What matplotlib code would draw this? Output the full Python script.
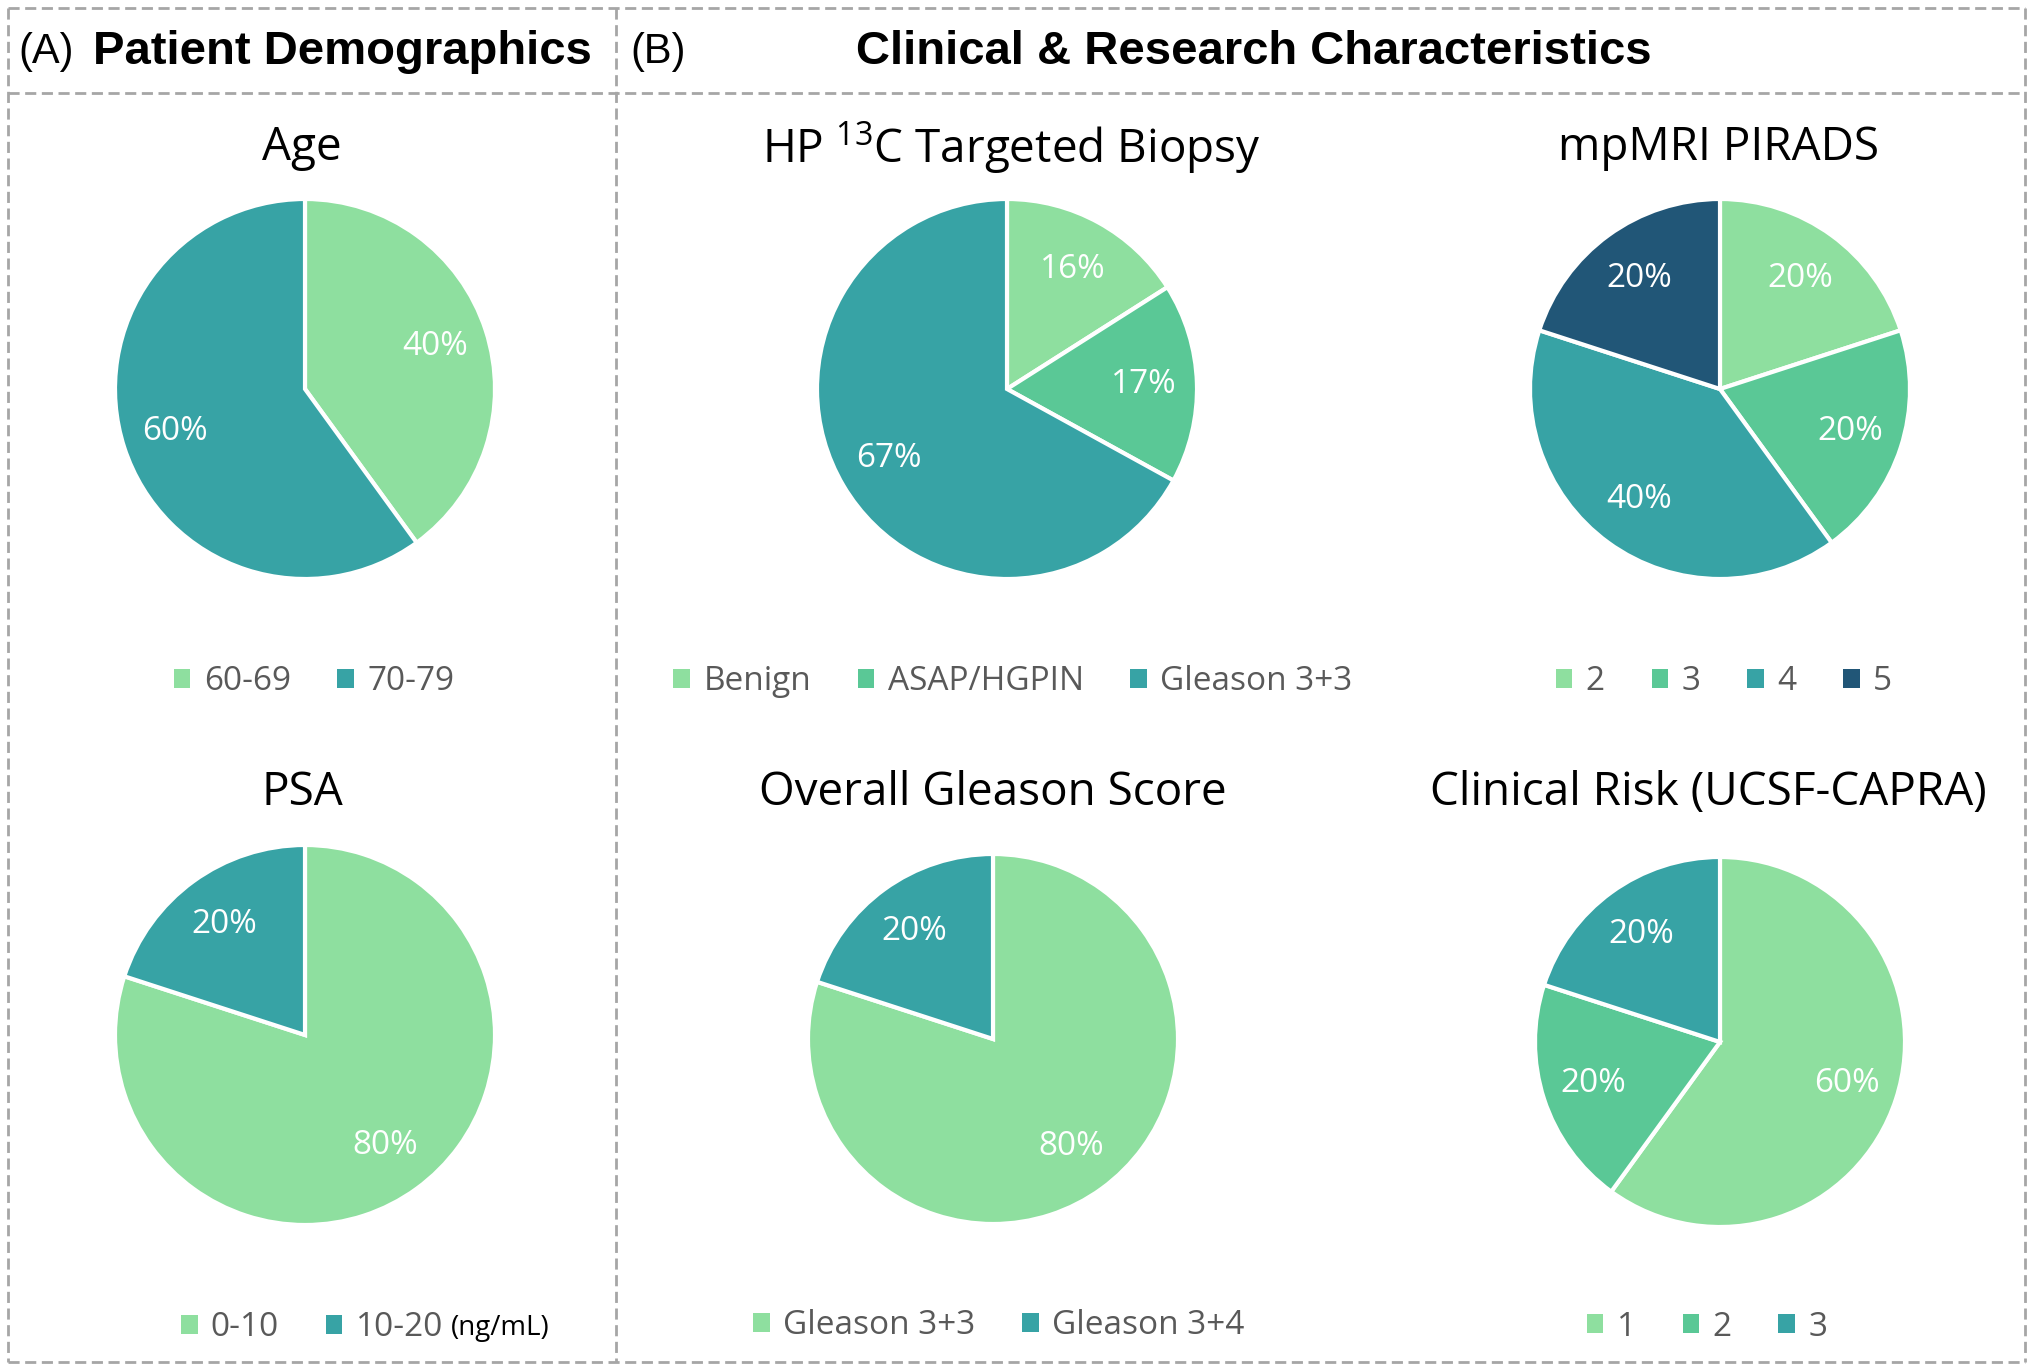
import matplotlib
matplotlib.use("Agg")
import matplotlib.pyplot as plt
from matplotlib.patches import Patch
from matplotlib.lines import Line2D

# colours
LIGHT = "#8EDF9F"
MID = "#5AC896"
TEAL = "#37A3A5"
DARK = "#215677"

age_labels = ["60-69", "70-79"]
age_values = [40, 60]

psa_labels = ["0-10", "10-20"]
psa_values = [80, 20]

biopsy_labels = ["Benign", "ASAP/HGPIN", "Gleason 3+3"]
biopsy_values = [16, 17, 67]

pirads_labels = ["2", "3", "4", "5"]
pirads_values = [20, 20, 40, 20]

gleason_labels = ["Gleason 3+3", "Gleason 3+4"]
gleason_values = [80, 20]

capra_labels = ["1", "2", "3"]
capra_values = [60, 20, 20]

W, H = 2032, 1369
plt.rcParams["font.family"] = ["Open Sans", "DejaVu Sans"]
plt.rcParams["mathtext.fontset"] = "custom"
plt.rcParams["mathtext.rm"] = "Open Sans"

fig = plt.figure(figsize=(W / 100, H / 100), dpi=100)


def fx(px):
    return px / W


def fy(py):
    return 1 - py / H


def draw_pie(title, labels, values, colors, cx, cy, r, tx, ty, lx, ly):
    ax = fig.add_axes([fx(cx - r), fy(cy + r), 2 * r / W, 2 * r / H])
    ax.pie(values, colors=colors, startangle=90, counterclock=False, radius=1,
           autopct="%.0f%%", pctdistance=0.72,
           wedgeprops=dict(edgecolor="white", linewidth=3),
           textprops=dict(color="white", fontsize=24))
    ax.set_xlim(-1.0, 1.0)
    ax.set_ylim(-1.0, 1.0)
    ax.set_aspect("equal")
    ax.axis("off")
    for p in ax.patches:
        p.set_clip_on(False)
    fig.text(fx(tx), fy(ty), title, ha="center", va="center", fontsize=33, color="black")
    handles = [Patch(facecolor=c, edgecolor="none") for c in colors]
    leg = fig.legend(handles, labels, loc="center", bbox_to_anchor=(fx(lx), fy(ly)),
                     ncol=len(labels), frameon=False, fontsize=24,
                     handlelength=0.5, handleheight=0.5, handletextpad=0.4,
                     columnspacing=1.4)
    for t in leg.get_texts():
        t.set_color("#595959")
    return ax


draw_pie("Age", age_labels, age_values, [LIGHT, TEAL], 305, 389, 190, 302, 148, 314, 682)
draw_pie("PSA", psa_labels, psa_values, [LIGHT, TEAL], 305, 1035, 190, 302, 793, 312, 1328)
fig.text(fx(451), fy(1328), "(ng/mL)", ha="left", va="center", fontsize=20, color="black")
draw_pie("HP $^{13}$C Targeted Biopsy", biopsy_labels, biopsy_values, [LIGHT, MID, TEAL],
         1007, 389, 190, 1011, 148, 1013, 682)
draw_pie("mpMRI PIRADS", pirads_labels, pirads_values, [LIGHT, MID, TEAL, DARK],
         1720, 389, 190, 1718, 148, 1724, 682)
draw_pie("Overall Gleason Score", gleason_labels, gleason_values, [LIGHT, TEAL],
         993, 1039, 185, 993, 793, 999, 1326)
draw_pie("Clinical Risk (UCSF-CAPRA)", capra_labels, capra_values, [LIGHT, MID, TEAL],
         1720, 1042, 185, 1708, 793, 1707, 1327)

# header text
hdr = ["Liberation Sans", "DejaVu Sans"]
fig.text(fx(18), fy(52), "(A)", ha="left", va="center", fontsize=30, family=hdr)
fig.text(fx(93), fy(52), "Patient Demographics", ha="left", va="center", fontsize=34,
         fontweight="bold", family=hdr)
fig.text(fx(630), fy(52), "(B)", ha="left", va="center", fontsize=30, family=hdr)
fig.text(fx(1254), fy(52), "Clinical & Research Characteristics", ha="center", va="center",
         fontsize=34, fontweight="bold", family=hdr)

# dashed frame
grey = "#A6A6A6"
kw = dict(color=grey, linestyle=(0, (4, 2)), linewidth=2, transform=fig.transFigure)
x0, x1, y0, y1 = 8, 2025, 8, 1362
for xs, ys in [([x0, x1], [y0, y0]), ([x0, x1], [y1, y1]), ([x0, x0], [y0, y1]),
               ([x1, x1], [y0, y1]), ([x0, x1], [93, 93]), ([616, 616], [y0, y1])]:
    fig.add_artist(Line2D([fx(v) for v in xs], [fy(v) for v in ys], **kw))

fig.savefig("out.png", dpi=100)
